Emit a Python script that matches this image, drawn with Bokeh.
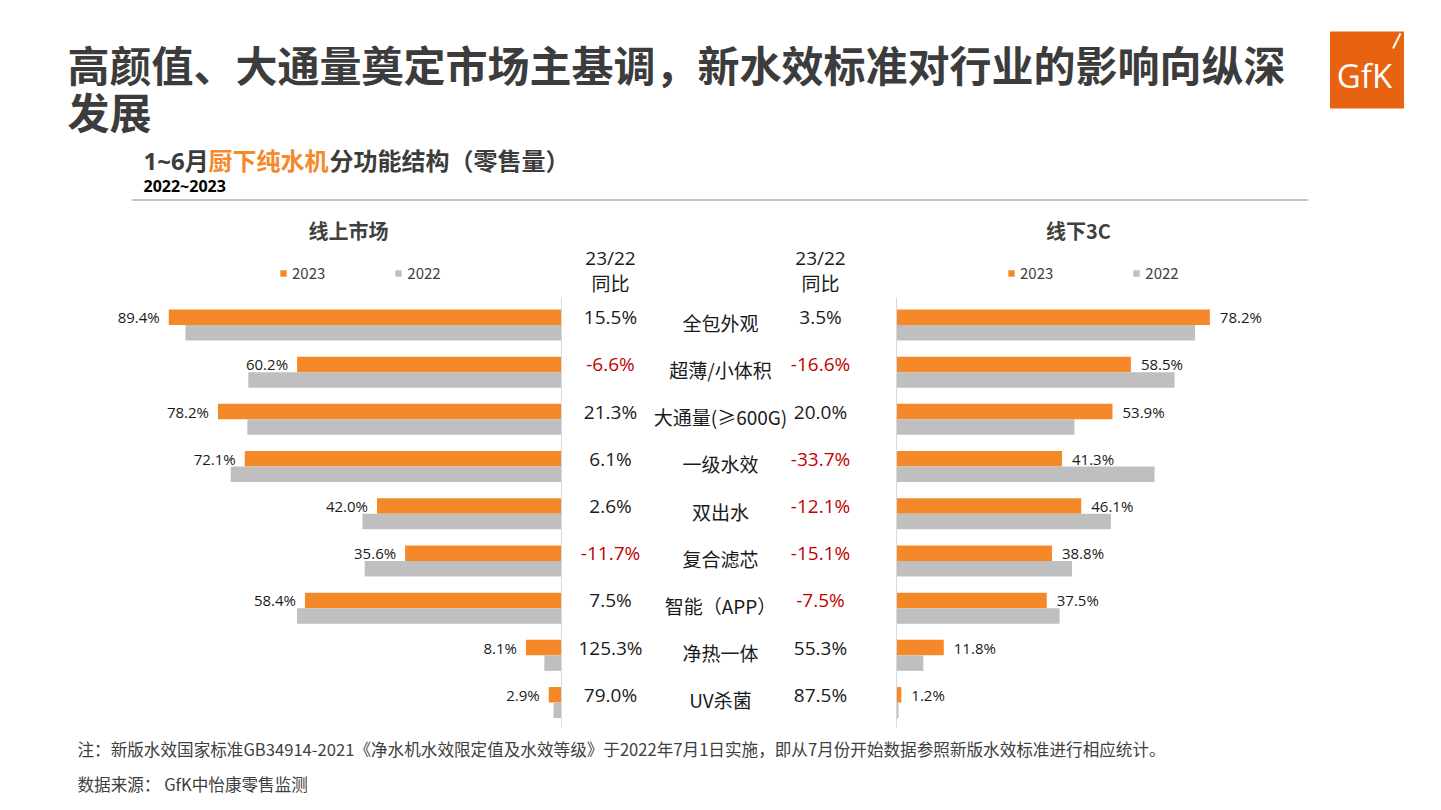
from bokeh.plotting import figure
from bokeh.models import Range1d, ColumnDataSource, Legend, LegendItem
from bokeh.core.properties import value
from bokeh.embed import file_html
from bokeh.resources import INLINE

# ---------------- data ----------------
categories = ["全包外观", "超薄/小体积", "大通量(≥600G)", "一级水效", "双出水",
              "复合滤芯", "智能（APP）", "净热一体", "UV杀菌"]
online_2023 = [89.4, 60.2, 78.2, 72.1, 42.0, 35.6, 58.4, 8.1, 2.9]
online_2022 = [85.6, 71.3, 71.5, 75.3, 45.3, 44.8, 60.2, 3.9, 1.8]
online_yoy = [15.5, -6.6, 21.3, 6.1, 2.6, -11.7, 7.5, 125.3, 79.0]
offline_2023 = [78.2, 58.5, 53.9, 41.3, 46.1, 38.8, 37.5, 11.8, 1.2]
offline_2022 = [74.5, 69.4, 44.4, 64.4, 53.5, 43.8, 40.7, 6.7, 0.5]
offline_yoy = [3.5, -16.6, 20.0, -33.7, -12.1, -15.1, -7.5, 55.3, 87.5]
series_labels = ["2023", "2022"]
panel_titles = ["线上市场", "线下3C"]

title_lines = ["高颜值、大通量奠定市场主基调，新水效标准对行业的影响向纵深", "发展"]
subtitle_parts = ["1~6月", "厨下纯水机", "分功能结构（零售量）"]
period = "2022~2023"
yoy_header = ["23/22", "同比"]
note = "注：新版水效国家标准GB34914-2021《净水机水效限定值及水效等级》于2022年7月1日实施，即从7月份开始数据参照新版水效标准进行相应统计。"
source_txt = "数据来源：  GfK中怡康零售监测"

# ---------------- style / layout ----------------
ORANGE = "#F5892A"
GRAY = "#BFBFBF"
DARK = "#3C3C3C"
RED = "#C00000"
CJK = "Noto Sans CJK SC"
NUM = "Open Sans, Noto Sans CJK SC"

W, H = 1425, 794
X0, Y0 = 0, 0  # figure coords equal screenshot coords
LEFT_ZERO, LEFT_SCALE = 561.0, 4.393
RIGHT_ZERO, RIGHT_SCALE = 896.0, 4.007
ROW0, STEP, BAR_H = 316.7, 47.2, 15.5

p = figure(width=W, height=H, x_range=Range1d(X0, X0 + W), y_range=Range1d(Y0 + H, Y0),
           output_backend="svg", toolbar_location=None,
           x_axis_location=None, y_axis_location=None, min_border=0)
p.outline_line_color = None
p.background_fill_color = "white"
p.border_fill_color = "white"
p.xgrid.visible = False
p.ygrid.visible = False

p.extra_x_ranges = {
    "left": Range1d(start=(LEFT_ZERO - X0) / LEFT_SCALE, end=(LEFT_ZERO - X0 - W) / LEFT_SCALE),
    "right": Range1d(start=(X0 - RIGHT_ZERO) / RIGHT_SCALE, end=(X0 + W - RIGHT_ZERO) / RIGHT_SCALE),
}

n = len(categories)
y23 = [ROW0 + STEP * i for i in range(n)]
y22 = [y + BAR_H for y in y23]

# ---------------- header ----------------
p.text(x=[67, 67], y=[63, 110], text=title_lines, text_font=value(CJK), text_font_style="bold",
       text_font_size="42px", text_color=DARK, text_baseline="middle", text_align="left")

# GfK logo
p.quad(left=[1329.5], right=[1403.5], top=[31], bottom=[108], fill_color="#E8620F", line_color=None)
p.text(x=[1364], y=[75], text=["GfK"], text_font=value("Open Sans"), text_font_size="33px",
       text_color="white", text_align="center", text_baseline="middle")
p.segment(x0=[1392.5], y0=[48], x1=[1400], y1=[33], line_color="white", line_width=2)

sub_x = [143, 208, 329]
sub_col = [DARK, ORANGE, DARK]
p.text(x=sub_x, y=[160] * 3, text=subtitle_parts, text_color=sub_col, text_font=value(NUM),
       text_font_style="bold", text_font_size="24px", text_baseline="middle", text_align="left")
p.text(x=[143], y=[185], text=[period], text_font=value(NUM), text_font_style="bold",
       text_font_size="16px", text_color="black", text_baseline="middle", text_align="left")
p.segment(x0=[131], x1=[1308], y0=[199.5], y1=[199.5], line_color="#8C8C8C", line_width=1)

# panel titles
p.text(x=[348, 1078], y=[230, 230], text=panel_titles, text_font=value(CJK), text_font_style="bold",
       text_font_size="20px", text_color="#404040", text_align="center", text_baseline="middle")

# ---------------- bars ----------------
src_l = ColumnDataSource(dict(y23=y23, y22=y22, v23=online_2023, v22=online_2022,
                              lab=[f"{v:.1f}%" for v in online_2023]))
src_r = ColumnDataSource(dict(y23=y23, y22=y22, v23=offline_2023, v22=offline_2022,
                              lab=[f"{v:.1f}%" for v in offline_2023]))

rl23 = p.hbar(y="y23", left=0, right="v23", height=BAR_H, source=src_l, x_range_name="left",
              fill_color=ORANGE, line_color=None)
rl22 = p.hbar(y="y22", left=0, right="v22", height=BAR_H, source=src_l, x_range_name="left",
              fill_color=GRAY, line_color=None)
rr23 = p.hbar(y="y23", left=0, right="v23", height=BAR_H, source=src_r, x_range_name="right",
              fill_color=ORANGE, line_color=None)
rr22 = p.hbar(y="y22", left=0, right="v22", height=BAR_H, source=src_r, x_range_name="right",
              fill_color=GRAY, line_color=None)

# zero lines
p.segment(x0=[0], x1=[0], y0=[297], y1=[727], x_range_name="left", line_color="#D9D9D9", line_width=1)
p.segment(x0=[0], x1=[0], y0=[297], y1=[727], x_range_name="right", line_color="#D9D9D9", line_width=1)

# data labels
p.text(x="v23", y="y23", text="lab", source=src_l, x_range_name="left", x_offset=-9,
       text_align="right", text_baseline="middle", text_font=value(NUM), text_font_size="15px",
       text_color="#1A1A1A")
p.text(x="v23", y="y23", text="lab", source=src_r, x_range_name="right", x_offset=10,
       text_align="left", text_baseline="middle", text_font=value(NUM), text_font_size="15px",
       text_color="#1A1A1A")

# ---------------- center columns ----------------
def yoy_src(vals, xpos):
    return ColumnDataSource(dict(x=[xpos] * len(vals), y=y23,
                                 t=[f"{v:.1f}%" for v in vals],
                                 c=[RED if v < 0 else "#1A1A1A" for v in vals]))

for vals, xpos in ((online_yoy, 610), (offline_yoy, 820)):
    p.text(x="x", y="y", text="t", text_color="c", source=yoy_src(vals, xpos),
           text_font=value(NUM), text_font_size="19px", text_align="center", text_baseline="middle")

p.text(x=[610, 610, 820, 820], y=[257, 283, 257, 283], text=yoy_header * 2,
       text_font=value(NUM), text_font_size="19px", text_color="#1A1A1A",
       text_align="center", text_baseline="middle")

p.text(x=[720] * n, y=[y + 5 for y in y23], text=categories, text_font=value(CJK),
       text_font_size="19px", text_color="#1A1A1A", text_align="center", text_baseline="middle")

# ---------------- legends ----------------
def make_legend(r23, r22, loc, spacing):
    lg = Legend(items=[LegendItem(label=series_labels[0], renderers=[r23]),
                       LegendItem(label=series_labels[1], renderers=[r22])],
                orientation="horizontal", location=loc, spacing=spacing,
                glyph_width=8, glyph_height=8, label_standoff=5, padding=0, margin=0,
                border_line_color=None, background_fill_alpha=0,
                label_text_font=CJK, label_text_font_size="15px", label_text_color="#404040",
                label_height=16)
    p.add_layout(lg)

make_legend(rl23, rl22, (279 - X0, Y0 + H - 283), 69)
make_legend(rr23, rr22, (1007 - X0, Y0 + H - 283), 79)

# ---------------- footer ----------------
p.text(x=[77, 77], y=[748, 783], text=[note, source_txt], text_font=value(CJK),
       text_font_size="16.6px", text_color="#404040", text_align="left", text_baseline="middle")

open("out.html", "w").write(file_html(p, INLINE))
